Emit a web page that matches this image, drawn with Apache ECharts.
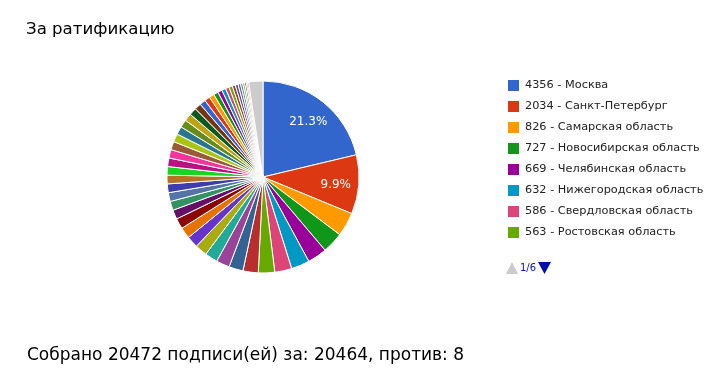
<!DOCTYPE html>
<html><head><meta charset="utf-8">
<script src="https://cdn.jsdelivr.net/npm/echarts@6/dist/echarts.min.js"></script>
<style>html,body{margin:0;padding:0;background:#fff}#c{width:710px;height:369px}</style>
</head><body><div id="c"></div>
<script>
const titleText = 'За ратификацию';
const regions = ['Москва','Санкт-Петербург','Самарская область','Новосибирская область','Челябинская область','Нижегородская область','Свердловская область','Ростовская область',
 'Краснодарский край','Республика Татарстан','Красноярский край','Пермский край','Московская область','Республика Башкортостан','Воронежская область','Саратовская область',
 'Иркутская область','Омская область','Тюменская область','Волгоградская область','Ленинградская область','Ярославская область','Приморский край','Алтайский край',
 'Томская область','Кемеровская область','Оренбургская область','Удмуртская Республика','Хабаровский край','Тульская область',
 'Калининградская область','Ульяновская область','Владимирская область','Пензенская область','Тверская область','Рязанская область','Белгородская область','Кировская область',
 'Ставропольский край','Липецкая область','Курская область','Калужская область','Ивановская область','Архангельская область','Вологодская область','Республика Крым','Смоленская область',
 'Другие'];
const votesFor = [4356, 2034, 826, 727, 669, 632, 586, 563,
 526, 490, 460, 440, 420, 400, 385, 363,
 320, 310, 305, 300, 298, 295, 293, 291,
 288, 282, 276, 270, 262, 254,
 225, 205, 188, 174, 161, 149, 138, 127, 116, 106, 96, 86, 76, 66, 56, 46, 38,
 490];
const votesAgainst = 8;
const itemsPerPage = 8;

const palette = ['#3366cc','#dc3912','#ff9900','#109618','#990099','#0099c6','#dd4477','#66aa00','#b82e2e','#316395','#994499','#22aa99','#aaaa11','#6633cc','#e67300','#8b0707','#651067','#329262','#5574a6','#3b3eac','#b77322','#16d620','#b91383','#f4359e','#9c5935','#a9c413','#2a778d','#668d1c','#bea413','#0c5922','#743411'];
const otherColor = '#cccccc';

const totalFor = votesFor.reduce((a,b)=>a+b,0);
const totalAll = totalFor + votesAgainst;
const valueByName = {};
regions.forEach((n,i)=>valueByName[n]=votesFor[i]);
const data = regions.map((n,i)=>({name:n, value:votesFor[i],
  itemStyle:{color: i===regions.length-1 ? otherColor : palette[i%palette.length]}}));
const pages = Math.ceil(regions.length/itemsPerPage);
const FONT = 'DejaVu Sans';

const chart = echarts.init(document.getElementById('c'), null, {renderer:'canvas'});
chart.setOption({
  animation:false,
  title:[
    {text:titleText, left:21, top:16, textStyle:{fontFamily:FONT, fontSize:16.6, fontWeight:'normal', color:'#000'}},
    {text:'Собрано '+totalAll+' подписи(ей) за: '+totalFor+', против: '+votesAgainst, left:22, top:342,
     textStyle:{fontFamily:FONT, fontSize:17, fontWeight:'normal', color:'#000'}}
  ],
  legend:{
    orient:'vertical', left:506, top:78, padding:0, icon:'rect', itemWidth:13, itemHeight:13, itemGap:6,
    data: regions.slice(0,itemsPerPage), selectedMode:false,
    formatter: n => valueByName[n] + ' - ' + n,
    textStyle:{fontFamily:FONT, fontSize:11.3, color:'#222'}
  },
  graphic:[
    {type:'polygon', shape:{points:[[506,274],[518,274],[512,262]]}, style:{fill:'#cccccc'}},
    {type:'text', left:520, top:263, style:{text:'1/'+pages, fill:'#0011cc', font:'10px '+FONT}},
    {type:'polygon', shape:{points:[[538,262],[551,262],[544.5,274]]}, style:{fill:'#0011aa'}}
  ],
  series:[
    {type:'pie', center:[263,177], radius:[0,96], startAngle:90, clockwise:true,
     data:data, label:{show:false}, labelLine:{show:false},
     itemStyle:{borderColor:'#fff', borderWidth:1}, emphasis:{disabled:true}},
    {type:'pie', center:[263,177], radius:[0,140], startAngle:90, clockwise:true, silent:true,
     data: regions.map((n,i)=>({name:n, value:votesFor[i]})),
     itemStyle:{color:'rgba(0,0,0,0)', borderWidth:0},
     label:{show:true, position:'inside', offset:[0,2], color:'#fff', fontFamily:FONT, fontSize:12,
       formatter: p => { const pct = p.value/totalFor*100; return pct > 5 ? pct.toFixed(1)+'%' : ''; }},
     labelLine:{show:false}, emphasis:{disabled:true}}
  ]
});
</script></body></html>
